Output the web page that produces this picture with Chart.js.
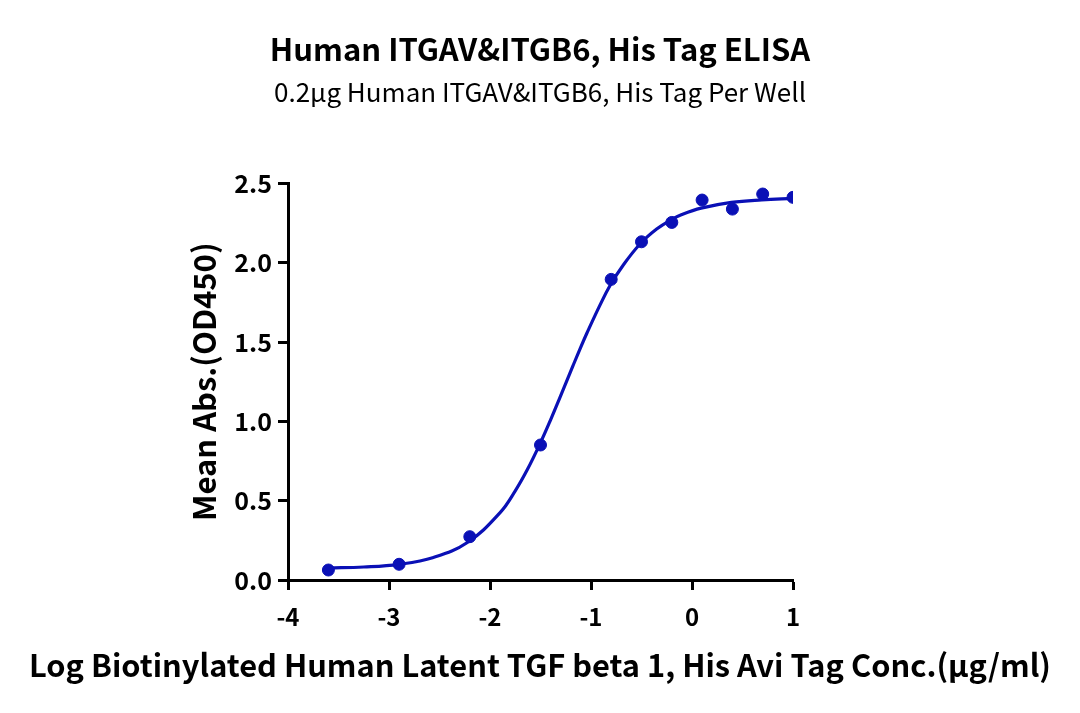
<!DOCTYPE html>
<html>
<head>
<meta charset="utf-8">
<script src="https://cdn.jsdelivr.net/npm/chart.js@4.4.0/dist/chart.umd.min.js"></script>
<style>
  html, body { margin:0; padding:0; background:#fff; }
  #wrap { width:1080px; height:713px; }
</style>
</head>
<body>
<div id="wrap"><canvas id="chart" width="1080" height="713"></canvas></div>
<script>
// measured points (log conc vs mean OD450)
const logConc = [-3.6, -2.9, -2.2, -1.5, -0.8, -0.5, -0.2, 0.1, 0.4, 0.7, 1.0];
const meanAbs = [0.063, 0.099, 0.273, 0.851, 1.895, 2.132, 2.254, 2.395, 2.338, 2.433, 2.412];

// fitted curve
const fitX = [-3.6, -3.25, -2.9, -2.56, -2.22, -1.9, -1.75, -1.63, -1.5, -1.4, -1.31, -1.18, -1.1, -1.04, -0.91, -0.81, -0.68, -0.51, -0.35, -0.21, -0.1, 0.09, 0.39, 0.69, 1.0];
const fitY = [0.076, 0.082, 0.099, 0.142, 0.238, 0.425, 0.562, 0.696, 0.866, 1.01, 1.147, 1.348, 1.47, 1.557, 1.734, 1.858, 1.986, 2.121, 2.212, 2.27, 2.304, 2.344, 2.38, 2.396, 2.405];

const xTicks = [-4, -3, -2, -1, 0, 1];
const yTicks = [0, 0.5, 1.0, 1.5, 2.0, 2.5];

const titleText = 'Human ITGAV&ITGB6, His Tag ELISA';
const subtitleText = '0.2μg Human ITGAV&ITGB6, His Tag Per Well';
const xTitle = 'Log Biotinylated Human Latent TGF beta 1, His Avi Tag Conc.(μg/ml)';
const yTitle = 'Mean Abs.(OD450)';

const BLUE = '#0a10b6';
const FONT = '"Noto Sans CJK SC", "Noto Sans", sans-serif';

const pts = logConc.map((x,i)=>({x, y: meanAbs[i]}));
const fit = fitX.map((x,i)=>({x, y: fitY[i]}));

const axisCommon = {
  border: { display:true, color:'#000', width:3 },
  grid: { drawOnChartArea:false, drawTicks:true, tickLength:10, tickWidth:3, tickColor:'#000', color:'#000' },
};

// x title is wider than the plot, so it is drawn across the full canvas
const xTitlePlugin = {
  id:'xTitle',
  afterDraw(c){
    const g=c.ctx; g.save();
    g.font = `bold 31px ${FONT}`; g.fillStyle='#000';
    g.textAlign='center'; g.textBaseline='middle';
    g.fillText(xTitle, 540, 665, 1022);
    g.restore();
  }
};

new Chart(document.getElementById('chart').getContext('2d'), {
  type: 'scatter',
  data: {
    datasets: [
      { data: fit, showLine:true, borderColor:BLUE, borderWidth:3.2, pointRadius:0,
        tension:0.4, fill:false, order:2 },
      { data: pts, showLine:false, backgroundColor:BLUE, borderColor:BLUE, pointRadius:6, pointHoverRadius:6, order:1 }
    ]
  },
  options: {
    responsive:false, animation:false, devicePixelRatio:1,
    layout: { padding: 0 },
    plugins: {
      legend: { display:false }, tooltip: { enabled:false },
      title: { display:true, text:titleText, color:'#000',
        font:{ family:FONT, size:31, weight:'bold', lineHeight:1.2 }, padding:{ top:31, bottom:0 } },
      subtitle: { display:true, text:subtitleText, color:'#000',
        font:{ family:FONT, size:26, weight:'normal', lineHeight:1.2 }, padding:{ top:8, bottom:76 } }
    },
    scales: {
      x: {
        ...axisCommon, type:'linear', min:-4, max:1,
        afterBuildTicks: s => { s.ticks = xTicks.map(v=>({value:v})); },
        afterFit: s => { s.height = 133; },
        ticks: { color:'#000', padding:12, font:{ family:FONT, size:24, weight:'bold' } }
      },
      y: {
        ...axisCommon, type:'linear', min:0, max:2.5,
        afterBuildTicks: s => { s.ticks = yTicks.map(v=>({value:v})); },
        afterFit: s => { s.width = 288; },
        ticks: { color:'#000', padding:6, font:{ family:FONT, size:25, weight:'bold' },
          callback: v => Number(v).toFixed(1) },
        title: { display:true, text:yTitle, color:'#000',
          font:{ family:FONT, size:31, weight:'bold', lineHeight:1.2 }, padding:{ top:186, bottom:0 } }
      },
      // empty right-hand box so the plot ends where the reference plot ends
      yPad: {
        type:'linear', position:'right', display:true,
        grid:{ display:false }, border:{ display:false }, ticks:{ display:false },
        afterFit: s => { s.width = 287; }
      }
    }
  },
  plugins: [{
    id:'bg',
    beforeDraw: c => { const g=c.ctx; g.save(); g.fillStyle='#fff'; g.fillRect(0,0,c.width,c.height); g.restore(); }
  }, xTitlePlugin]
});
</script>
</body>
</html>
